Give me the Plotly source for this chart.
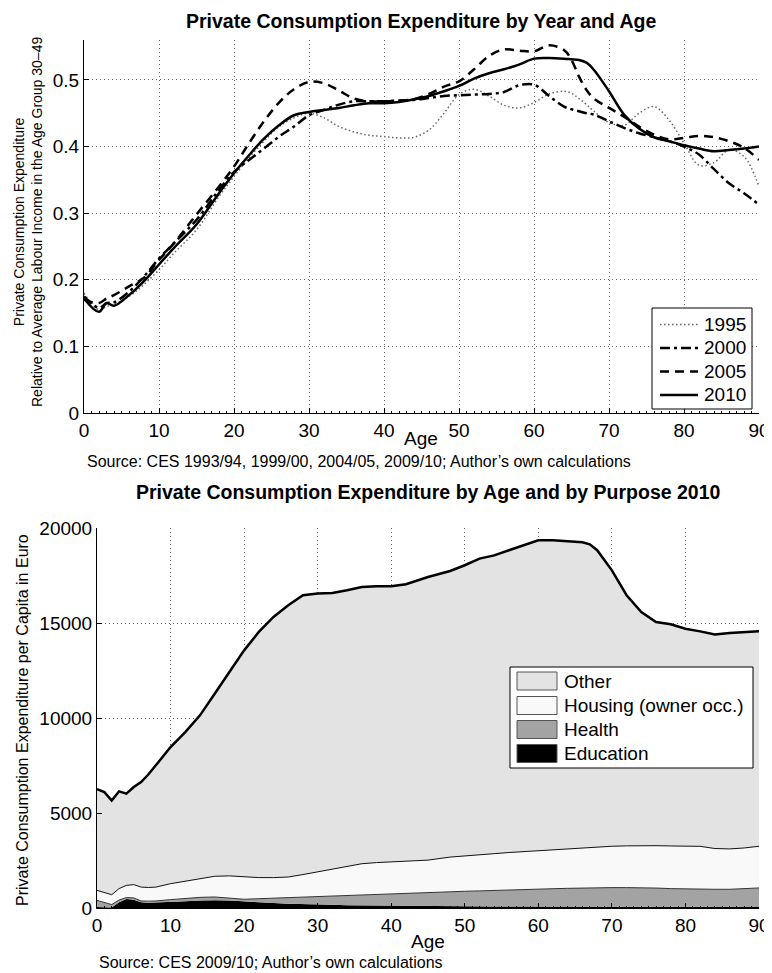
import plotly.graph_objects as go

# the page puts the figure 8px in from the top-left corner, so the figure is 8px smaller
OFF = 8
W, H = 772 - OFF, 973 - OFF
FONT = "Liberation Sans, Arial, sans-serif"

# --- top chart: consumption relative to average labour income (age 30-49) ---
ages_top = [0, 2, 3, 4, 6, 8, 10, 12, 15, 18,
            20, 22, 24, 26, 28, 30, 32, 34, 36, 38, 40, 42, 44, 46, 48,
            50, 52, 54, 56, 58, 60, 62, 64,
            65, 66, 67, 68,
            70, 72, 74, 76, 78, 80, 82, 84, 86, 88, 90]

rel_1995 = [0.18, 0.155, 0.16, 0.163, 0.175, 0.193, 0.215, 0.24, 0.275, 0.325,
            0.355, 0.383, 0.408, 0.43, 0.443, 0.45, 0.443, 0.43, 0.422, 0.417, 0.415, 0.413, 0.414, 0.425, 0.45,
            0.478, 0.486, 0.476, 0.462, 0.458, 0.466, 0.479, 0.483,
            0.48, 0.472, 0.463, 0.453,
            0.436, 0.432, 0.45, 0.46, 0.44, 0.405, 0.372, 0.376, 0.395, 0.385, 0.34]
rel_2000 = [0.175, 0.158, 0.165, 0.166, 0.182, 0.205, 0.232, 0.255, 0.29, 0.335,
            0.362, 0.38, 0.397, 0.415, 0.43, 0.447, 0.455, 0.463, 0.468, 0.468, 0.468, 0.469, 0.47, 0.473, 0.476,
            0.477, 0.478, 0.479, 0.482, 0.492, 0.493, 0.476, 0.46,
            0.456, 0.453, 0.45, 0.448,
            0.438, 0.428, 0.42, 0.414, 0.408, 0.4, 0.388, 0.366, 0.345, 0.33, 0.313]
rel_2005 = [0.17, 0.165, 0.172, 0.177, 0.19, 0.203, 0.23, 0.255, 0.298, 0.34,
            0.37, 0.405, 0.438, 0.466, 0.486, 0.497, 0.495, 0.484, 0.472, 0.468, 0.468, 0.469, 0.471, 0.479, 0.49,
            0.498, 0.516, 0.536, 0.546, 0.544, 0.543, 0.552, 0.545,
            0.53, 0.505, 0.485, 0.472,
            0.458, 0.445, 0.43, 0.418, 0.411, 0.413, 0.416, 0.414, 0.408, 0.398, 0.38]
rel_2010 = [0.172, 0.152, 0.165, 0.161, 0.177, 0.198, 0.223, 0.248, 0.283, 0.33,
            0.36, 0.387, 0.412, 0.432, 0.447, 0.452, 0.455, 0.458, 0.462, 0.465, 0.465, 0.467, 0.471, 0.476, 0.483,
            0.491, 0.502, 0.51, 0.516, 0.523, 0.532, 0.533, 0.532,
            0.531, 0.53, 0.526, 0.515,
            0.483, 0.448, 0.427, 0.414, 0.408, 0.402, 0.397, 0.393, 0.395, 0.397, 0.4]

# --- bottom chart: expenditure per capita by purpose 2010 (upper edge of each layer, Euro) ---
ages_bot = [0, 1, 2, 3, 4, 5, 6, 7, 8,
            10, 12, 14, 16, 18, 20, 22, 24, 26, 28, 30, 32, 34, 36, 38, 40,
            42, 45, 48,
            50, 52, 54, 56, 58, 60, 62, 64, 66,
            67, 68,
            70, 72, 74, 76, 78, 80, 82, 84, 86, 88, 90]

edge_other = [6250, 6100, 5650, 6140, 6020, 6370, 6630, 7040, 7510,
              8470, 9260, 10140, 11280, 12420, 13560, 14530, 15320, 15930, 16460, 16550, 16580, 16720, 16890, 16930, 16930,
              17040, 17420, 17740,
              18040, 18390, 18560, 18830, 19090, 19350, 19350, 19300, 19250,
              19140, 18830,
              17770, 16460, 15580, 15050, 14930, 14700, 14560, 14390, 14470, 14530, 14560]
edge_housing = [930, 820, 700, 1020, 1190, 1230, 1100, 1080, 1100,
                1280, 1400, 1550, 1670, 1690, 1630, 1600, 1600, 1630, 1760, 1900, 2060, 2210, 2330, 2390, 2420,
                2450, 2520, 2680,
                2750, 2810, 2860, 2920, 2970, 3020, 3080, 3110, 3160,
                3180, 3200,
                3250, 3270, 3285, 3280, 3265, 3255, 3245, 3130, 3110, 3160, 3250]
edge_health = [400, 300, 180, 420, 550, 530, 370, 360, 370,
               440, 500, 560, 580, 530, 460, 490, 520, 550, 565, 580, 620, 670, 700, 730, 760,
               780, 810, 860,
               880, 900, 915, 930, 960, 990, 1015, 1035, 1055,
               1060, 1065,
               1073, 1073, 1073, 1050, 1020, 1000, 985, 985, 985, 1020, 1055]
edge_education = [50, 40, 30, 300, 480, 440, 300, 270, 280,
                  310, 350, 390, 410, 390, 340, 300, 260, 230, 200, 180, 165, 150, 140, 130, 120,
                  115, 110, 100,
                  95, 90, 85, 80, 78, 75, 72, 70, 70,
                  68, 68,
                  65, 62, 60, 58, 56, 55, 54, 52, 50, 50, 50]

legend_top = ["1995", "2000", "2005", "2010"]
legend_bot = ["Other", "Housing (owner occ.)", "Health", "Education"]
legend_bot_colors = ["#e3e3e3", "#f9f9f9", "#a3a3a3", "#000000"]


def px(x):
    # page pixel -> paper fraction
    return (x - OFF) / W


def py(y):
    return 1 - (y - OFF) / H


styles = [dict(color="#666666", width=1.5, dash="1.5px,2.5px"),
          dict(color="black", width=2.5, dash="10px,4px,3px,4px"),
          dict(color="black", width=2.5, dash="9px,6px"),
          dict(color="black", width=2.5)]

fig = go.Figure()

# top chart lines
for name, vals, st in zip(legend_top, [rel_1995, rel_2000, rel_2005, rel_2010], styles):
    fig.add_trace(go.Scatter(x=ages_top, y=vals, mode="lines", name=name, line_shape="spline",
                             line=st, showlegend=False, xaxis="x", yaxis="y"))

# bottom chart areas (bottom layer first)
fig.add_trace(go.Scatter(x=ages_bot, y=edge_education, mode="lines", fill="tozeroy", fillcolor="#000000",
                         name="Education", line=dict(width=0, color="black"), showlegend=False,
                         xaxis="x2", yaxis="y2"))
fig.add_trace(go.Scatter(x=ages_bot, y=edge_health, mode="lines", fill="tonexty", fillcolor="#a3a3a3",
                         name="Health", line=dict(width=1, color="#333333"), showlegend=False,
                         xaxis="x2", yaxis="y2"))
fig.add_trace(go.Scatter(x=ages_bot, y=edge_housing, mode="lines", fill="tonexty", fillcolor="#f9f9f9",
                         name="Housing (owner occ.)", line=dict(width=1, color="#111111"), showlegend=False,
                         xaxis="x2", yaxis="y2"))
fig.add_trace(go.Scatter(x=ages_bot, y=edge_other, mode="lines", fill="tonexty", fillcolor="#e3e3e3",
                         name="Other", line=dict(width=2.5, color="black"), showlegend=False,
                         xaxis="x2", yaxis="y2"))

axis_common = dict(showline=True, linecolor="black", linewidth=1, mirror=False, ticks="inside", ticklen=5,
                   tickcolor="black", showgrid=True, gridcolor="#666666", griddash="1px,3px", gridwidth=1,
                   zeroline=False, automargin=False, tickfont=dict(size=19, color="black"))

fig.update_layout(
    width=W, height=H,
    margin=dict(l=0, r=0, t=0, b=0, pad=0, autoexpand=False),
    paper_bgcolor="white", plot_bgcolor="white",
    font=dict(family=FONT, color="black"),
    xaxis=dict(domain=[px(84), px(759)], range=[0, 90], tickvals=list(range(0, 91, 10)), anchor="y",
               minor=dict(dtick=1, ticks="inside", ticklen=2, tickcolor="black", showgrid=False),
               **axis_common),
    yaxis=dict(domain=[py(413), py(40)], range=[0, 0.56], tickvals=[0, 0.1, 0.2, 0.3, 0.4, 0.5],
               ticktext=["0", "0.1", "0.2", "0.3", "0.4", "0.5"], anchor="x", **axis_common),
    xaxis2=dict(domain=[px(97), px(759)], range=[0, 90], tickvals=list(range(0, 91, 10)), anchor="y2",
                minor=dict(dtick=1, ticks="inside", ticklen=2, tickcolor="black", showgrid=False),
                **axis_common),
    yaxis2=dict(domain=[py(908), py(528)], range=[0, 20000], tickvals=[0, 5000, 10000, 15000, 20000],
                tickformat="d", anchor="x2", **axis_common),
    showlegend=False,
)

ann = [
    dict(text="<b>Private Consumption Expenditure by Year and Age</b>", x=px(421), y=py(20.5), size=19.5),
    dict(text="Age", x=px(421), y=py(438), size=19),
    dict(text="<b>Private Consumption Expenditure by Age and by Purpose 2010</b>", x=px(428), y=py(492), size=19.5),
    dict(text="Age", x=px(428), y=py(941), size=19),
]
for a in ann:
    fig.add_annotation(text=a["text"], x=a["x"], y=a["y"], xref="paper", yref="paper", showarrow=False,
                       xanchor="center", yanchor="middle", font=dict(size=a["size"], color="black"))

fig.add_annotation(text="Source: CES 1993/94, 1999/00, 2004/05, 2009/10; Author\u2019s own calculations",
                   x=px(85), y=py(461), xref="paper", yref="paper", showarrow=False, xanchor="left",
                   yanchor="middle", font=dict(size=16))
fig.add_annotation(text="Source: CES 2009/10; Author\u2019s own calculations",
                   x=px(97), y=py(962), xref="paper", yref="paper", showarrow=False, xanchor="left",
                   yanchor="middle", font=dict(size=16))
fig.add_annotation(text="Private Consumption Expenditure<br>Relative to Average Labour Income in the Age Group 30\u201349",
                   x=px(28), y=py(222), xref="paper", yref="paper", showarrow=False, textangle=-90,
                   xanchor="center", yanchor="middle", font=dict(size=14))
fig.add_annotation(text="Private Consumption Expenditure per Capita in Euro",
                   x=px(22), y=py(720), xref="paper", yref="paper", showarrow=False, textangle=-90,
                   xanchor="center", yanchor="middle", font=dict(size=16))

# legend for the year lines
fig.add_shape(type="rect", xref="paper", yref="paper", x0=px(652), x1=px(752), y0=py(409), y1=py(308),
              line=dict(color="black", width=1), fillcolor="white")
for name, st, yc in zip(legend_top, styles, [324.5, 348, 371.5, 395]):
    fig.add_shape(type="line", xref="paper", yref="paper", x0=px(660), x1=px(698), y0=py(yc), y1=py(yc),
                  line=st)
    fig.add_annotation(text=name, x=px(702), y=py(yc), xref="paper", yref="paper", showarrow=False,
                       xanchor="left", yanchor="middle", font=dict(size=19))

# legend for the stacked areas (box swatches)
fig.add_shape(type="rect", xref="paper", yref="paper", x0=px(510), x1=px(753), y0=py(768), y1=py(667),
              line=dict(color="black", width=1), fillcolor="white")
for name, col, yc in zip(legend_bot, legend_bot_colors, [681, 705.5, 729.5, 753.5]):
    fig.add_shape(type="rect", xref="paper", yref="paper", x0=px(517), x1=px(557), y0=py(yc + 9), y1=py(yc - 9),
                  line=dict(color="#555555", width=1), fillcolor=col)
    fig.add_annotation(text=name, x=px(562), y=py(yc), xref="paper", yref="paper", showarrow=False,
                       xanchor="left", yanchor="middle", font=dict(size=19))

fig.write_html("out.html")
